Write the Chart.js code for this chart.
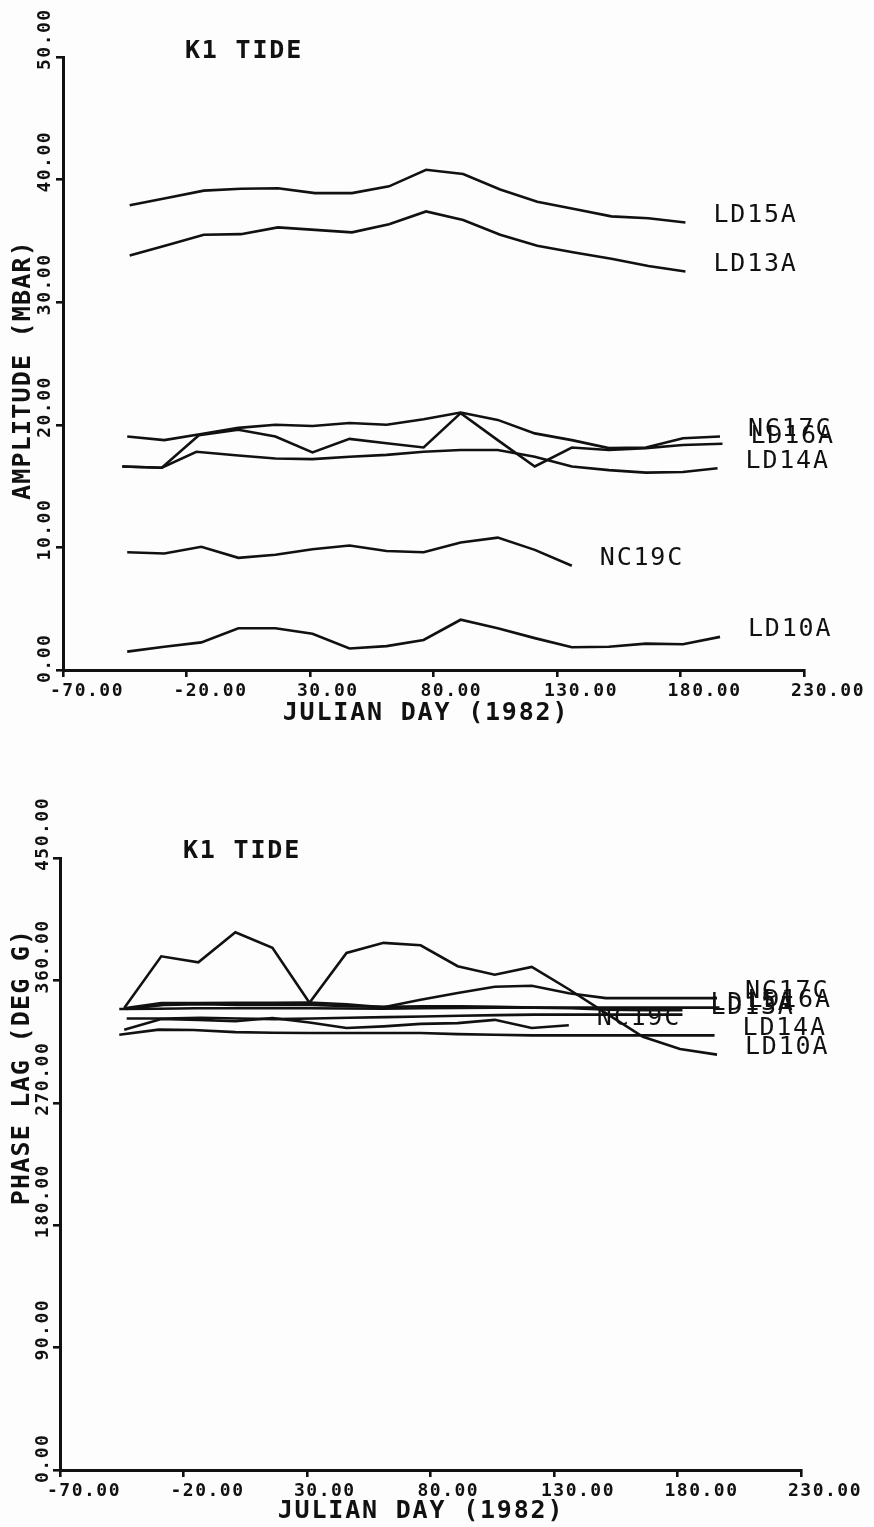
<!DOCTYPE html>
<html>
<head>
<meta charset="utf-8">
<title>K1 TIDE</title>
<script src="https://cdn.jsdelivr.net/npm/chart.js@4.4.1/dist/chart.umd.min.js"></script>
<style>
  html, body { margin: 0; padding: 0; background: #fdfdfd; }
  #pagina { position: relative; width: 874px; height: 1527px; }
  .quadro { position: absolute; left: 0; width: 874px; }
  #quadroAmp { top: 0; height: 763px; }
  #quadroFase { top: 763px; height: 764px; }
</style>
</head>
<body>
<div id="pagina">
  <div class="quadro" id="quadroAmp"><canvas id="amplitude"></canvas></div>
  <div class="quadro" id="quadroFase"><canvas id="fase"></canvas></div>
</div>
<script>
//DIAS JULIANOS (1982) DE CADA ESTACAO
var diasLD15 = [-43, -28, -13, 2, 17, 32, 47, 62, 77, 92, 107, 122, 137, 152, 167, 182];
var diasLD13 = [-43, -28, -13, 2, 17, 32, 47, 62, 77, 92, 107, 122, 137, 152, 167, 182];
var diasNC17 = [-44, -29, -14, 1, 16, 31, 46, 61, 76, 91, 106, 121, 136, 151, 166, 181, 196];
var diasLD16 = [-46, -30, -15, 1, 16, 31, 46, 61, 76, 91, 106, 121, 136, 151, 166, 181, 197];
var diasLD14 = [-46, -30, -16, 1, 16, 31, 46, 61, 76, 91, 106, 121, 136, 151, 166, 181, 195];
var diasNC19 = [-44, -29, -14, 1, 16, 31, 46, 61, 76, 91, 106, 121, 136];
var diasLD10 = [-44, -29, -14, 1, 16, 31, 46, 61, 76, 91, 106, 121, 136, 151, 166, 181, 196];

//AMPLITUDE (MBAR)
var ampLD15 = [37.9, 38.5, 39.1, 39.25, 39.3, 38.9, 38.9, 39.45, 40.8, 40.45, 39.2, 38.2, 37.6, 37.0, 36.85, 36.5];
var ampLD13 = [33.8, 34.65, 35.5, 35.55, 36.1, 35.9, 35.7, 36.35, 37.4, 36.7, 35.5, 34.6, 34.05, 33.55, 32.95, 32.5];
var ampNC17 = [19.05, 18.75, 19.25, 19.75, 20.0, 19.9, 20.15, 20.0, 20.45, 21.0, 20.4, 19.3, 18.75, 18.1, 18.15, 18.9, 19.05];
var ampLD16 = [16.6, 16.5, 19.15, 19.6, 19.05, 17.75, 18.85, 18.5, 18.15, 20.95, 18.75, 16.6, 18.15, 17.95, 18.1, 18.35, 18.45];
var ampLD14 = [16.6, 16.5, 17.8, 17.5, 17.25, 17.2, 17.4, 17.55, 17.8, 17.95, 17.95, 17.4, 16.6, 16.3, 16.1, 16.15, 16.45];
var ampNC19 = [9.6, 9.5, 10.05, 9.15, 9.4, 9.85, 10.15, 9.7, 9.6, 10.4, 10.8, 9.8, 8.5];
var ampLD10 = [1.5, 1.9, 2.25, 3.4, 3.4, 2.95, 1.75, 1.95, 2.45, 4.1, 3.4, 2.6, 1.85, 1.9, 2.15, 2.1, 2.7];

//PHASE LAG (DEG G)
var faseNC17 = [339.5, 343.4, 343.4, 343.5, 343.6, 343.8, 342.5, 340.3, 345.8, 350.8, 355.3, 356.1, 350.5, 347, 347, 347, 347];
var faseLD16 = [339, 339.2, 339.5, 339.5, 339.5, 339.5, 339.3, 339.2, 339.5, 339.8, 340, 340, 340, 340, 340, 340, 340];
var faseLD15 = [339, 342, 342.5, 342, 342, 342, 341, 340.5, 341, 341, 340.5, 340, 339.5, 338.5, 338, 338];
var faseLD13 = [332, 332, 332.5, 332, 331.5, 332, 332.5, 333, 333.5, 334, 334.5, 334.8, 334.8, 334.8, 334.8, 334.8];
var faseNC19 = [323.8, 331.6, 331, 330, 332.3, 329, 325, 326.2, 328, 328.6, 331, 325, 327];
var faseLD14 = [320, 323.8, 323.5, 322, 321.5, 321.3, 321.3, 321.3, 321.3, 320.5, 320, 319.6, 319.6, 319.6, 319.6, 319.6, 319.6];
var faseLD10 = [339.7, 377.7, 373.3, 395.4, 383.9, 343.5, 380.2, 387.6, 385.8, 370.4, 364.2, 369.9, 353.5, 336, 318.5, 309.5, 305.4];

//MARCAS DOS EIXOS
var ticksDias = [-70, -20, 30, 80, 130, 180, 230];
var ticksAmp = [0, 10, 20, 30, 40, 50];
var ticksFase = [0, 90, 180, 270, 360, 450];

var COR = '#111';
Chart.defaults.font.family = "'DejaVu Sans Mono', monospace";
Chart.defaults.color = COR;

function serie(nome, dias, valores) {
  return {
    label: nome,
    data: dias.map(function (d, i) { return {x: d, y: valores[i]}; }),
    borderColor: COR,
    borderWidth: 2.6,
    pointRadius: 0,
    fill: false,
    tension: 0
  };
}

//ROTULOS DAS ESTACOES, TITULOS E NUMEROS DO EIXO Y (GIRADOS)
var rotulos = {
  id: 'rotulos',
  beforeDraw: function (chart) {
    chart.ctx.letterSpacing = '1.5px';
  },
  afterDatasetsDraw: function (chart, args, op) {
    var ctx = chart.ctx;
    ctx.save();
    ctx.fillStyle = COR;
    ctx.textBaseline = 'middle';
    ctx.textAlign = 'left';
    ctx.font = "25px 'DejaVu Sans Mono'";
    ctx.letterSpacing = '1.8px';
    chart.data.datasets.forEach(function (ds, i) {
      var pts = chart.getDatasetMeta(i).data;
      var ultimo = pts[pts.length - 1];
      ctx.fillText(ds.label, ultimo.x + 28, ultimo.y - 7);
    });

    //numeros do eixo y, lidos de baixo pra cima
    var sy = chart.scales.y;
    ctx.font = "bold 18px 'DejaVu Sans Mono'";
    ctx.letterSpacing = '1.5px';
    sy.ticks.forEach(function (t) {
      var py = sy.getPixelForValue(t.value);
      ctx.save();
      ctx.translate(op.lx, py + 13);
      ctx.rotate(-Math.PI / 2);
      ctx.fillText(Number(t.value).toFixed(2), 0, 0);
      ctx.restore();
    });

    ctx.font = "bold 25px 'DejaVu Sans Mono'";
    ctx.letterSpacing = '1.8px';
    ctx.textAlign = 'center';
    ctx.fillText(op.titulo, op.tx, op.ty);
    ctx.fillText(op.eixoX, op.ex, op.ey);

    ctx.letterSpacing = '1.2px';
    ctx.translate(op.yx, op.yy);
    ctx.rotate(-Math.PI / 2);
    ctx.fillText(op.eixoY, 0, 0);
    ctx.restore();
  }
};

function criaGrafico(id, series, ticksY, textos, pad) {
  return new Chart(document.getElementById(id), {
    type: 'line',
    data: {datasets: series},
    options: {
      responsive: true,
      maintainAspectRatio: false,
      animation: false,
      devicePixelRatio: 1,
      layout: {padding: pad},
      plugins: {legend: {display: false}, tooltip: {enabled: false}, rotulos: textos},
      scales: {
        x: {
          type: 'linear',
          min: ticksDias[0],
          max: ticksDias[ticksDias.length - 1],
          afterBuildTicks: function (s) { s.ticks = ticksDias.map(function (v) { return {value: v}; }); },
          afterFit: function (s) { s.height = 40; s.paddingLeft = 0; s.paddingRight = 0; },
          grid: {drawOnChartArea: false, drawTicks: true, tickLength: 7, color: COR, lineWidth: 2.6},
          border: {display: true, color: COR, width: 3},
          ticks: {
            autoSkip: false, minRotation: 0, maxRotation: 0,
            align: 'start', labelOffset: -13, padding: 4,
            font: {size: 18, weight: 'bold'},
            callback: function (v) { return Number(v).toFixed(2); }
          }
        },
        y: {
          type: 'linear',
          min: ticksY[0],
          max: ticksY[ticksY.length - 1],
          afterBuildTicks: function (s) { s.ticks = ticksY.map(function (v) { return {value: v}; }); },
          afterFit: function (s) { s.width = 18; s.paddingTop = 0; s.paddingBottom = 0; },
          grid: {drawOnChartArea: false, drawTicks: true, tickLength: 7, color: COR, lineWidth: 2.6},
          border: {display: true, color: COR, width: 3},
          ticks: {display: false}
        }
      }
    },
    plugins: [rotulos]
  });
}

criaGrafico('amplitude', [
  serie('LD15A', diasLD15, ampLD15),
  serie('LD13A', diasLD13, ampLD13),
  serie('NC17C', diasNC17, ampNC17),
  serie('LD16A', diasLD16, ampLD16),
  serie('LD14A', diasLD14, ampLD14),
  serie('NC19C', diasNC19, ampNC19),
  serie('LD10A', diasLD10, ampLD10)
], ticksAmp,
{titulo: 'K1 TIDE', tx: 244, ty: 51, eixoX: 'JULIAN DAY (1982)', ex: 426, ey: 713,
 eixoY: 'AMPLITUDE (MBAR)', yx: 23, yy: 370, lx: 45},
{left: 45, top: 57, right: 70, bottom: 53});

criaGrafico('fase', [
  serie('NC17C', diasNC17, faseNC17),
  serie('LD16A', diasLD16, faseLD16),
  serie('LD15A', diasLD15, faseLD15),
  serie('LD13A', diasLD13, faseLD13),
  serie('NC19C', diasNC19, faseNC19),
  serie('LD14A', diasLD14, faseLD14),
  serie('LD10A', diasLD10, faseLD10)
], ticksFase,
{titulo: 'K1 TIDE', tx: 242, ty: 88, eixoX: 'JULIAN DAY (1982)', ex: 421, ey: 748,
 eixoY: 'PHASE LAG (DEG G)', yx: 22, yy: 304, lx: 43},
{left: 42, top: 95, right: 73, bottom: 17});
</script>
</body>
</html>
